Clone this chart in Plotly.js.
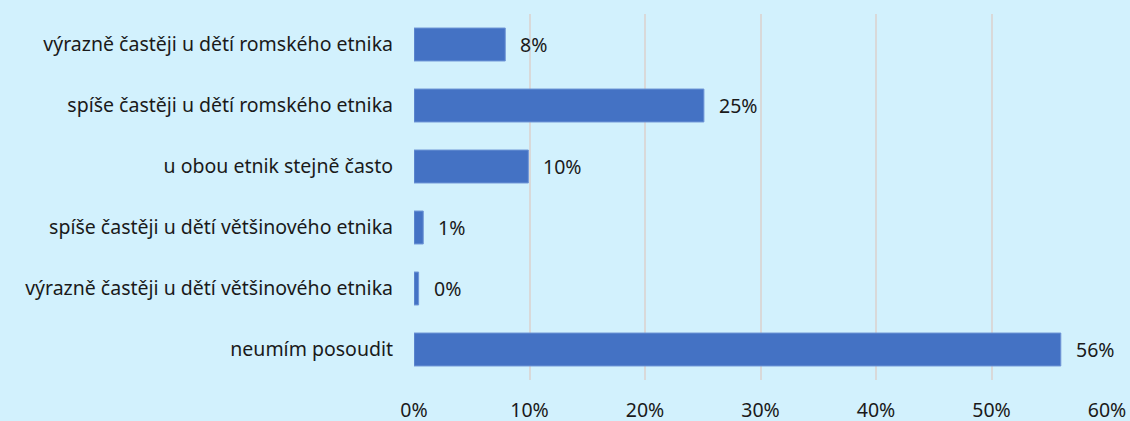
<!DOCTYPE html>
<html>
<head>
<meta charset="utf-8">
<script src="https://cdn.plot.ly/plotly-3.0.1.min.js"></script>
<style>html,body{margin:0;padding:0;background:#d2f1fd;}#chart{width:1130px;height:421px;}</style>
</head>
<body>
<div id="chart"></div>
<script>
const categories = [
  "výrazně častěji u dětí romského etnika",
  "spíše častěji u dětí romského etnika",
  "u obou etnik stejně často",
  "spíše častěji u dětí většinového etnika",
  "výrazně častěji u dětí většinového etnika",
  "neumím posoudit"
];
const values = [0.079, 0.251, 0.099, 0.008, 0.004, 0.560];
const labels = ["8%", "25%", "10%", "1%", "0%", "56%"];
const tickVals = [0, 0.1, 0.2, 0.3, 0.4, 0.5, 0.6];
const tickText = ["0%", "10%", "20%", "30%", "40%", "50%", "60%"];

const font = {family: "Noto Sans, Open Sans, sans-serif", size: 19.5, color: "#1a1a1a"};

const trace = {
  type: "bar",
  orientation: "h",
  y: categories,
  x: values,
  marker: {color: "#4472c4", line: {color: "#6f95d6", width: 1}},
  width: 0.54,
  hoverinfo: "none"
};

const annotations = values.map((v, i) => ({
  x: v, y: categories[i], xref: "x", yref: "y",
  text: labels[i], showarrow: false, xanchor: "left", xshift: 13,
  font: font
}));

const layout = {
  width: 1130, height: 421,
  margin: {l: 414, r: 23, t: 14, b: 41},
  paper_bgcolor: "#d2f1fd",
  plot_bgcolor: "#d2f1fd",
  font: font,
  showlegend: false,
  xaxis: {
    range: [0, 0.6],
    tickvals: tickVals,
    ticktext: tickText,
    showgrid: true,
    gridcolor: "#d9d9d9",
    gridwidth: 2,
    zeroline: false,
    showline: false,
    ticks: "",
    ticklabelstandoff: 16,
    tickfont: font,
    fixedrange: true
  },
  yaxis: {
    type: "category",
    categoryorder: "array",
    categoryarray: categories.slice().reverse(),
    ticks: "",
    ticklabelstandoff: 20,
    showgrid: false,
    zeroline: false,
    showline: false,
    tickfont: font,
    fixedrange: true
  },
  annotations: annotations
};

Plotly.newPlot("chart", [trace], layout, {displayModeBar: false, staticPlot: true});
</script>
</body>
</html>
